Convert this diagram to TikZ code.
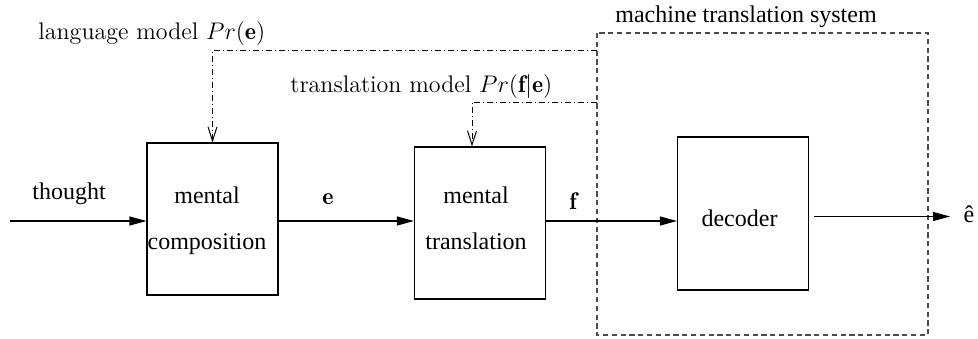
\documentclass[tikz,border=0pt]{standalone}
\usepackage{fontspec}
\usetikzlibrary{arrows.meta}
\newfontfamily\tmsfont{Liberation Serif}
\begin{document}
\begin{tikzpicture}[x=0.5pt,y=-0.5pt,
  blk/.style={draw, line width=0.55pt, minimum width=65.5pt, minimum height=76pt, inner sep=0pt},
  flow/.style={line width=0.55pt, -{Triangle[length=8.5pt,width=4.5pt]}},
  model/.style={line width=0.5pt, dash pattern=on 3pt off 1.5pt on 0.5pt off 1.5pt,
    -{Straight Barb[length=7pt,width=4.5pt,line width=0.5pt]}},
  sys/.style={draw=black!70, line width=0.55pt, dash pattern=on 2.6pt off 1.8pt},
  tms/.style={font=\tmsfont\fontsize{12}{23}\selectfont, inner sep=0pt},
  cmr/.style={font=\fontsize{12}{14}\selectfont, inner sep=0pt}]
\useasboundingbox (0,0) rectangle (978,338);

% machine translation system frame
\draw[sys] (597,33) rectangle (928,335);
\node[tms, anchor=base west] (systxt) at (615,22) {machine translation system};

% blocks
\node[blk] (comp) at (212.5,219) {};
\node[tms, align=center] (comptxt) at (207,221) {mental\\composition};
\node[blk] (trans) at (480,223) {};
\node[tms, align=center] (transtxt) at (476,218) {mental\\translation};
\node[blk, minimum height=76.5pt] (dec) at (743,213.5) {};
\node[tms] (dectxt) at (739.5,218.5) {decoder};

% main signal path
\coordinate (src) at (10,221);
\coordinate (row) at (0,221);
\draw[flow] (src) -- (comp.west |- row);
\node[tms, anchor=base] (thought) at (69,199) {thought};
\draw[flow] (comp.east |- row) -- (trans.west |- row);
\node[cmr, anchor=base] (elab) at (328,204) {$\mathbf{e}$};
\draw[flow] (trans.east |- row) -- (dec.west |- row);
\node[cmr, anchor=base] (flab) at (573,209) {$\mathbf{f}$};
\coordinate (outstart) at (814,216.5);
\coordinate (outend) at (950,216.5);
\draw[flow] (outstart) -- (outend);
\node[tms, anchor=base] (ehat) at (969,222) {ê};

% model inputs from the system frame
\coordinate (lmstart) at (597,50);
\coordinate (tmstart) at (597,102);
\draw[model] (lmstart) -- (comp.north |- lmstart) -- (comp.north);
\node[cmr, anchor=base west] (lmtxt) at (38,39) {language model $Pr(\mathbf{e})$};
\draw[model] (tmstart) -- ([xshift=-4pt]trans.north |- tmstart) -- ([xshift=-4pt]trans.north);
\node[cmr, anchor=base west] (tmtxt) at (290,92) {translation model $Pr(\mathbf{f}|\mathbf{e})$};
\end{tikzpicture}
\end{document}
